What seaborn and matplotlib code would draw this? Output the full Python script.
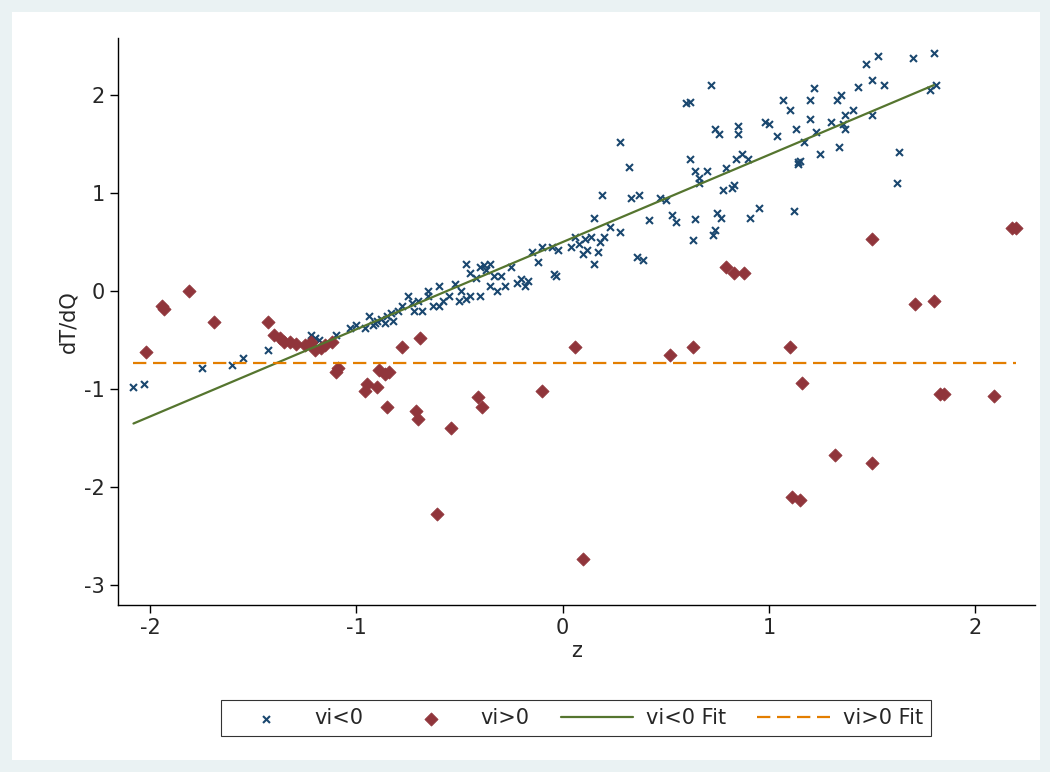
import matplotlib
matplotlib.use("Agg")
import matplotlib.pyplot as plt
import seaborn as sns
import numpy as np
import pandas as pd
from matplotlib.patches import Rectangle

neg_x = [-2.08,-2.03,-1.75,-1.6,-1.55,-1.43,-1.22,-1.2,-1.18,-1.1,
 0.28,0.32,0.33,0.37,0.36,0.39,0.42,0.47,0.5,0.53,0.55,0.6,0.62,0.62,0.63,0.64,0.64,0.66,0.66,0.7,0.72,0.73,0.74,0.74,0.75,0.76,0.77,0.78,0.79,0.82,0.83,0.84,0.85,0.85,0.87,0.9,0.91,0.95,0.98,1.0,1.04,1.07,1.1,1.12,1.13,1.14,1.14,1.15,1.17,1.2,1.22,1.23,1.3,1.33,1.35,1.34,1.36,1.37,1.37,1.41,1.43,1.47,1.5,1.53,1.56,1.62,1.63,1.7,1.78,1.8,1.81,1.2,1.25,1.5,
 0.19,0.15,0.14,0.17,0.18,0.12,0.1,0.11,0.08,0.06,0.04,0.15,0.2,0.23,0.28,-0.02,-0.04,-0.03,-0.05,-0.1,-0.12,-0.15,-0.17,-0.2,-0.25,-0.3,-0.32,-0.35,-0.37,-0.38,-0.4,-0.42,-0.45,-0.47,-0.49,-0.52,-0.55,-0.5,-0.47,-0.45,-0.4,-0.6,-0.63,-0.65,-0.68,-0.7,-0.72,-0.75,-0.78,-0.8,-0.82,-0.85,-0.86,-0.88,-0.9,-0.92,-0.94,-0.96,-1.0,-1.03,-0.58,-0.6,-0.28,-0.22,-0.18,-0.35,-0.33,-0.65,-0.73,-0.83,-0.91]
neg_y = [-0.98,-0.95,-0.78,-0.75,-0.68,-0.6,-0.45,-0.48,-0.5,-0.45,
 1.52,1.27,0.95,0.98,0.35,0.32,0.72,0.95,0.93,0.78,0.7,1.92,1.93,1.35,0.52,1.22,0.73,1.1,1.15,1.22,2.1,0.57,0.62,1.65,0.8,1.6,0.75,1.03,1.25,1.05,1.08,1.35,1.6,1.68,1.4,1.35,0.75,0.85,1.72,1.7,1.58,1.95,1.85,0.82,1.65,1.32,1.3,1.33,1.52,1.95,2.07,1.62,1.72,1.95,2.0,1.47,1.7,1.65,1.8,1.85,2.08,2.32,2.15,2.4,2.1,1.1,1.42,2.38,2.05,2.43,2.1,1.75,1.4,1.8,
 0.98,0.75,0.55,0.4,0.5,0.42,0.38,0.53,0.48,0.55,0.45,0.28,0.55,0.65,0.6,0.42,0.17,0.15,0.45,0.45,0.3,0.4,0.1,0.12,0.25,0.15,0.0,0.28,0.22,0.27,0.25,0.13,0.18,0.28,0.0,0.07,-0.05,-0.1,-0.08,-0.05,-0.05,0.05,-0.15,-0.05,-0.2,-0.1,-0.2,-0.05,-0.15,-0.2,-0.3,-0.25,-0.33,-0.28,-0.3,-0.35,-0.25,-0.38,-0.35,-0.38,-0.1,-0.15,0.05,0.08,0.05,0.05,0.15,0.0,-0.12,-0.22,-0.33]
pos_x = [-2.02,-1.94,-1.93,-1.81,-1.69,-1.43,-1.40,-1.37,-1.35,-1.32,-1.29,-1.25,-1.22,-1.20,-1.17,-1.15,-1.12,-1.10,-1.09,-0.96,-0.95,-0.90,-0.89,-0.86,-0.84,-0.85,-0.78,-0.71,-0.70,-0.69,-0.54,-0.61,-0.41,-0.39,-0.10,0.06,0.10,0.52,0.63,0.79,0.83,0.88,1.10,1.11,1.15,1.16,1.32,1.50,1.50,1.71,1.80,1.83,1.85,2.09,2.18,2.20]
pos_y = [-0.62,-0.15,-0.18,0.0,-0.32,-0.32,-0.45,-0.48,-0.52,-0.52,-0.54,-0.55,-0.52,-0.6,-0.58,-0.55,-0.52,-0.82,-0.78,-1.02,-0.95,-0.98,-0.8,-0.85,-0.82,-1.18,-0.57,-1.22,-1.3,-0.48,-1.4,-2.27,-1.08,-1.18,-1.02,-0.57,-2.73,-0.65,-0.57,0.25,0.18,0.18,-0.57,-2.1,-2.13,-0.94,-1.67,0.53,-1.75,-0.13,-0.1,-1.05,-1.05,-1.07,0.64,0.64]
fit_neg_x = [-2.08, 1.8]
fit_neg_y = [-1.35, 2.1]
fit_pos_x = [-2.08, 2.2]
fit_pos_y = [-0.73, -0.73]
x_ticks = [-2, -1, 0, 1, 2]
y_ticks = [-3, -2, -1, 0, 1, 2]

sns.set_theme(style="white")
plt.rcParams['font.family'] = ['DejaVu Sans']
plt.rcParams['axes.unicode_minus'] = False
fig = plt.figure(figsize=(10.5, 7.72), dpi=100)
fig.patch.set_facecolor('#eaf2f3')
fig.patches.append(Rectangle((12/1050, 12/772), 1028/1050, 748/772, transform=fig.transFigure,
                             facecolor='white', edgecolor='none', zorder=-5))
ax = fig.add_axes([118/1050, 1-605/772, 917/1050, 567/772])
ax.set_zorder(2)
ax.set_facecolor('white')
blue, red, green, orange = '#1a476f', '#90353b', '#55752f', '#e37e00'
sns.scatterplot(x=neg_x, y=neg_y, ax=ax, marker='x', color=blue, s=25, linewidth=1.5, label='vi<0')
sns.scatterplot(x=pos_x, y=pos_y, ax=ax, marker='D', color=red, s=45, edgecolor=red, label='vi>0')
sns.lineplot(x=fit_neg_x, y=fit_neg_y, ax=ax, color=green, linewidth=1.6, label='vi<0 Fit')
sns.lineplot(x=fit_pos_x, y=fit_pos_y, ax=ax, color=orange, linewidth=1.6, linestyle=(0, (6, 3)), label='vi>0 Fit')
ax.set_xlim(-2.155, 2.29)
ax.set_ylim(-3.2, 2.58)
ax.set_xticks(x_ticks)
ax.set_yticks(y_ticks)
ax.set_xlabel('z', fontsize=15, labelpad=2)
ax.set_ylabel('dT/dQ', fontsize=15)
ax.tick_params(axis='both', labelsize=15, length=6, width=1, color='black', direction='out', left=True, bottom=True)
for s in ['top', 'right']:
    ax.spines[s].set_visible(False)
for s in ['left', 'bottom']:
    ax.spines[s].set_color('black')
    ax.spines[s].set_linewidth(1)
h, l = ax.get_legend_handles_labels()
ax.get_legend().remove()
leg = fig.legend(h, l, loc='center', bbox_to_anchor=(576/1050, 1-718/772), ncol=4, fontsize=15,
                 frameon=True, fancybox=False, edgecolor='black', columnspacing=1.5, handlelength=3.5,
                 handletextpad=0.6)
leg.get_frame().set_linewidth(0.8)
fig.savefig('out.png', dpi=100, facecolor=fig.get_facecolor())
